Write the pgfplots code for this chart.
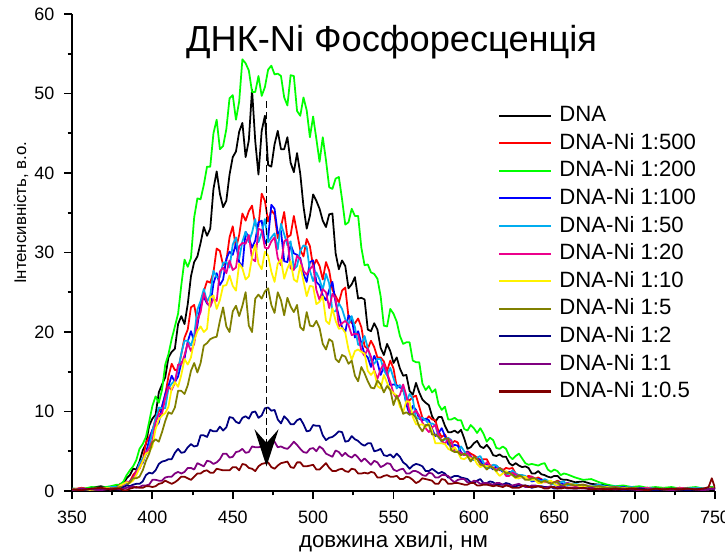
\documentclass[border=0pt]{standalone}
\usepackage{fontspec}
\setmainfont{Liberation Sans}
\usepackage{pgfplots}
\usepackage{pgfplotstable}
\pgfplotsset{compat=1.18}
\usetikzlibrary{arrows.meta}

\definecolor{cOlive}{RGB}{128,128,0}
\definecolor{cNavy}{RGB}{0,0,128}
\definecolor{cPurple}{RGB}{128,0,128}
\definecolor{cWine}{RGB}{128,0,0}

% phosphorescence spectra: wavelength (nm) and intensity (a.u.)
% K = DNA, R = 1:500, G = 1:200, B = 1:100, C = 1:50, M = 1:20,
% Y = 1:10, O = 1:5, N = 1:2, P = 1:1, D = 1:0.5
\pgfplotstableread{
x    K    R    G    B    C    M    Y    O    N    P    D
350  0.3  0.2  0.3  0.2  0.3  0.2  0.2  0.1  0.2  0.1  0.2
356  0.2  0.4  0.2  0.3  0.1  0.3  0.3  0.3  0.1  0.3  0.1
362  0.4  0.2  0.5  0.1  0.3  0.2  0.1  0.2  0.3  0.2  0.3
368  0.6  0.3  0.4  0.3  0.2  0.4  0.3  0.2  0.2  0.1  0.4
374  0.3  0.5  0.6  0.4  0.5  0.2  0.4  0.3  0.3  0.3  0.2
378  0.7  0.5  0.8  0.3  0.5  0.4  0.3  0.4  0.2  0.3  0.3
380  0.6  0.9  0.8  0.7  0.6  0.7  0.7  0.5  0.2  0.2  0.3
382  0.9  1.0  1.2  0.8  0.9  0.8  0.9  0.5  0.5  0.3  0.1
384  1.6  1.0  2.0  1.0  1.1  1.2  1.1  0.7  0.7  0.4  0.1
386  2.0  1.2  2.6  1.2  1.1  1.1  1.0  1.1  0.6  0.5  0.3
388  2.8  2.0  3.1  1.6  1.4  1.6  1.3  1.6  0.8  0.6  0.4
390  2.7  2.5  3.9  2.4  2.2  2.4  2.0  1.6  0.9  0.4  0.5
392  3.7  2.8  5.3  3.4  3.5  3.0  2.9  1.8  0.9  0.5  0.4
394  5.1  3.8  5.9  3.5  4.1  3.8  3.7  2.6  1.2  0.7  0.4
396  5.9  6.1  6.8  4.8  4.6  4.8  4.7  3.8  2.0  0.7  0.6
398  8.2  6.8  8.7  6.4  5.5  5.4  4.9  4.7  2.3  0.8  0.6
400  9.1  7.6 10.7  7.7  7.5  6.3  5.6  6.1  2.2  1.4  0.5
402  9.6  9.1 11.9  8.1  9.1  8.6  7.8  6.5  2.6  1.4  0.6
404 12.4 10.0 11.1  8.6 10.5  9.7  9.0  6.2  3.4  1.3  0.9
406 13.4 10.6 12.7 10.6 10.4  9.7  9.5  7.4  3.7  1.3  1.0
408 14.3 12.1 15.9 12.2 10.4 11.7  9.8  8.8  3.8  1.7  1.3
410 16.8 14.4 17.2 13.2 12.9 13.1 10.6  9.9  4.0  1.8  1.1
412 17.5 16.0 19.1 14.5 13.5 12.7 12.9  9.7  4.0  1.8  0.9
414 17.9 15.2 20.7 13.7 13.9 13.6 13.7 10.5  4.8  2.2  1.1
416 21.0 15.3 22.3 14.4 15.2 15.9 13.1 12.6  5.3  2.4  1.4
418 22.0 17.2 25.9 16.1 17.3 15.9 14.6 12.6  4.8  2.2  1.8
420 21.0 19.3 29.1 16.7 18.9 17.1 16.6 12.2  4.9  2.4  1.8
422 23.5 20.3 28.2 18.8 18.9 18.6 15.9 13.3  5.5  2.9  1.6
424 27.0 23.1 29.3 20.1 18.3 17.6 16.8 15.1  5.9  2.9  1.4
426 28.8 23.4 34.4 18.8 19.6 18.5 18.9 16.1  5.6  2.7  1.8
428 29.5 21.2 36.8 20.8 22.8 21.5 20.1 14.9  5.7  3.5  2.2
430 31.2 23.0 36.7 23.6 23.9 22.5 20.7 16.1  7.0  3.3  2.2
432 33.2 25.1 38.5 24.4 25.4 24.9 20.0 18.3  7.0  3.1  2.5
434 32.1 26.4 40.8 23.6 23.8 23.7 20.4 18.6  6.8  3.8  2.6
436 33.0 26.2 40.8 23.2 24.6 23.2 24.3 19.1  7.7  3.7  2.3
438 38.0 27.5 45.0 26.1 27.7 24.2 24.6 19.3  7.5  3.4  2.3
440 40.2 30.5 46.7 27.4 26.9 23.9 22.9 19.4  7.5  3.6  2.8
442 37.4 30.2 43.0 25.9 26.9 27.6 24.0 21.4  8.1  4.0  2.7
444 35.7 28.4 43.4 26.6 28.7 28.1 25.8 23.1  7.6  4.7  2.6
446 36.5 28.9 45.5 29.2 28.8 27.4 25.9 20.7  8.0  4.7  2.6
448 39.8 31.9 49.4 30.1 28.1 29.0 27.1 20.0  9.3  4.2  2.6
450 42.0 33.3 49.8 29.7 31.0 27.8 25.8 22.6  9.2  4.3  3.0
452 42.7 30.5 46.7 31.1 31.9 28.1 25.2 23.3  8.7  4.9  3.0
454 45.2 32.2 49.0 28.8 29.2 30.8 28.6 22.0  8.5  5.0  2.6
456 46.3 34.9 54.3 28.2 31.4 31.2 28.0 23.3  9.2  5.3  3.4
458 42.0 34.0 53.8 32.6 32.6 31.1 26.6 25.0  9.4  4.8  3.3
460 44.1 35.2 52.9 31.9 31.3 32.2 27.0 20.8  9.1  4.9  2.9
462 50.5 35.9 50.2 30.6 32.5 29.2 29.4 20.0  9.9  5.6  2.8
464 44.0 33.4 50.2 31.5 34.2 28.9 31.0 24.2 10.0  5.5  2.5
466 39.8 33.3 52.2 33.8 31.3 33.0 28.6 24.7  9.2  5.5  3.1
468 45.3 37.4 49.7 34.0 32.5 32.8 27.9 24.2  9.5  5.6  3.4
470 47.2 36.5 50.8 31.1 34.2 30.6 30.1 25.1 10.4  5.2  3.5
472 41.0 33.9 53.0 31.8 31.3 30.5 29.6 25.5 10.5  5.2  3.6
474 40.8 35.3 53.5 36.0 31.9 31.4 27.6 23.4 10.1  6.1  3.0
476 43.6 34.8 52.4 35.5 32.4 31.9 26.3 22.4 10.2  6.2  2.8
478 45.3 31.8 52.5 32.4 30.4 29.3 28.6 25.0  9.0  5.5  3.2
480 43.0 33.2 52.2 32.7 33.6 28.4 29.1 24.0  8.5  5.6  3.5
482 43.0 35.1 49.5 28.9 32.3 31.4 26.7 22.1  9.4  5.4  3.6
484 44.5 31.9 48.5 28.8 30.9 31.7 28.0 24.3  9.0  5.3  3.7
486 41.3 32.2 52.3 31.0 31.4 28.0 28.9 23.2  8.4  5.7  3.0
488 40.1 34.6 52.2 29.9 27.9 27.8 26.6 22.5  8.4  6.2  2.9
490 42.5 32.5 47.8 29.7 28.3 29.6 26.3 23.4  8.9  5.8  3.6
492 39.9 30.3 47.2 29.3 30.2 29.1 28.4 20.6  9.1  5.3  3.6
494 35.8 29.5 49.5 27.3 30.9 27.7 26.4 20.2  8.4  4.9  3.1
496 33.0 31.7 47.9 26.3 30.7 27.2 24.5 22.5  7.5  4.8  3.1
498 34.6 30.8 44.5 28.8 27.7 27.9 25.8 20.8  7.6  5.3  3.2
500 37.3 28.2 47.1 29.0 26.4 28.4 25.7 20.7  8.3  5.4  3.3
502 36.5 29.1 44.3 26.3 27.5 25.3 23.5 21.4  8.2  5.0  2.7
504 35.5 28.3 41.4 25.9 26.6 24.0 23.8 20.5  8.2  5.6  2.7
506 34.0 26.6 44.5 24.6 25.3 25.4 24.5 18.5  7.0  5.3  3.1
508 33.2 28.8 41.6 24.0 27.3 25.0 21.4 17.8  6.4  4.7  3.5
510 34.8 27.7 38.2 25.3 26.1 23.0 21.0 19.1  6.7  4.5  2.9
512 34.9 25.3 38.0 26.3 22.6 24.8 23.0 18.8  6.8  4.3  2.5
514 29.9 24.5 39.3 23.7 22.6 24.2 21.4 16.6  7.1  5.1  2.5
516 27.9 23.7 39.5 22.0 23.6 20.7 20.4 16.2  7.5  4.9  2.7
518 29.0 25.2 36.7 20.6 22.9 21.1 20.5 17.1  7.4  4.4  2.8
520 28.3 25.6 33.5 20.0 21.6 21.4 19.9 16.9  6.2  4.8  2.5
522 25.5 21.9 33.8 22.1 21.0 20.9 17.8 16.0  6.3  4.4  2.4
524 26.0 21.1 35.5 21.7 22.0 19.6 16.5 16.4  6.9  4.2  2.8
526 26.9 21.1 34.6 19.3 20.6 19.8 17.6 14.5  6.5  4.6  2.7
528 24.2 21.7 34.6 20.1 18.4 19.7 17.8 13.8  6.3  4.2  2.2
530 24.3 20.6 30.6 18.6 18.3 17.6 17.5 15.6  5.9  3.7  2.2
532 24.1 18.2 28.4 17.2 19.5 17.0 17.3 14.8  5.7  4.1  2.3
534 20.3 17.9 28.5 16.8 18.0 17.9 15.1 13.8  6.0  3.7  2.2
536 20.1 18.9 27.5 15.6 16.4 16.9 14.6 13.0  6.0  3.3  2.4
538 21.1 18.1 27.3 17.0 16.0 15.2 15.1 12.9  5.0  3.8  2.3
540 20.3 16.8 26.7 16.2 16.6 14.1 13.2 13.9  5.1  3.6  1.7
542 18.0 16.8 24.5 14.6 16.6 15.3 12.9 13.4  5.3  3.0  1.7
544 17.1 16.3 20.8 15.6 15.2 16.0 14.6 12.4  4.5  3.2  1.9
546 18.5 15.1 20.7 14.8 14.5 14.8 13.6 13.2  4.4  3.5  2.0
548 17.6 16.4 22.9 13.3 15.5 13.7 12.7 12.7  4.6  3.4  1.8
550 16.1 15.4 22.3 13.4 14.2 12.3 12.3 10.8  4.2  2.7  1.8
552 16.8 13.1 21.3 13.3 12.9 11.6 12.0 12.0  4.7  2.5  1.9
554 15.4 13.3 19.5 13.0 13.3 12.1 10.6 11.1  4.3  2.7  1.5
556 14.5 12.6 18.5 13.0 12.8 13.4  9.9  9.7  3.6  2.8  1.5
558 14.6 11.7 18.7 10.9 11.2 12.0 11.3  9.9  3.3  2.2  1.8
560 12.6 11.4 18.7  9.6 12.2  9.9 11.2  9.6  2.8  2.2  1.7
562 12.1 11.8 16.4 10.7 11.6  9.8  9.3  9.7  3.2  2.5  1.4
564 13.6 12.0 16.2 10.2  9.1 10.1  8.4  9.2  3.4  2.5  1.0
566 12.4 10.6 16.2  9.1  9.2  9.5  8.3  8.1  3.3  2.3  1.2
568 11.5  9.2 13.5  8.9  9.2  8.6  8.4  7.5  3.1  2.0  1.6
570 11.1  8.9 12.7  9.1  8.9  7.9  8.0  8.3  2.5  1.9  1.5
572 10.8  9.4 13.2  8.9  8.4  7.4  8.5  8.3  2.5  2.3  1.4
574  9.4  9.0 12.4  7.8  8.5  8.0  7.6  7.1  2.8  2.2  1.3
576  8.7  8.9 12.8  6.9  8.3  8.3  6.0  7.1  2.5  1.7  0.9
578  9.3  7.5 10.9  7.3  6.8  7.1  6.0  6.8  2.2  1.7  0.9
580  9.3  6.8 10.2  7.9  6.2  6.3  6.0  6.3  2.4  2.0  1.5
582  8.2  7.1 10.6  6.9  6.5  5.9  5.9  6.6  2.2  2.0  1.4
584  7.4  6.3  9.0  5.9  6.7  6.6  5.3  6.6  1.7  1.9  0.9
586  7.4  5.9  9.0  5.6  6.4  6.3  5.1  5.1  1.7  1.4  0.9
588  7.6  6.3  9.2  5.8  5.0  4.9  5.5  4.9  1.9  1.1  1.0
590  7.3  6.1  8.9  5.7  5.0  5.0  4.9  4.9  1.9  1.4  1.0
592  7.7  4.7  8.9  4.9  5.6  4.8  4.1  4.5  1.7  1.5  0.9
594  6.6  4.7  7.8  4.5  5.0  4.5  4.0  4.7  1.6  1.5  0.8
596  5.3  5.0  7.6  4.9  4.5  4.8  4.3  4.4  1.5  1.1  0.8
598  5.5  4.7  8.3  4.4  4.0  4.3  4.1  3.7  1.1  1.0  1.0
600  6.0  4.5  7.9  3.9  3.9  4.0  4.1  4.3  1.0  1.3  1.0
602  6.3  4.2  7.3  4.1  4.2  4.1  3.4  4.0  1.3  1.2  0.7
604  5.6  3.9  7.9  3.8  4.4  3.3  3.0  3.4  1.5  0.9  0.7
606  5.4  4.0  7.2  3.2  3.6  3.1  3.2  3.2  1.0  1.0  0.8
608  5.8  4.0  6.2  3.4  2.9  3.6  3.1  2.7  1.0  1.0  0.8
610  5.3  3.2  6.7  3.1  2.9  3.2  3.1  3.1  1.2  0.9  0.7
612  4.5  3.2  6.4  2.7  3.3  2.9  2.9  2.9  1.1  0.8  0.6
614  4.4  3.2  5.4  3.1  3.2  2.7  2.4  2.5  0.8  1.0  0.7
616  4.6  2.6  5.3  2.8  2.8  2.9  1.9  2.9  0.8  1.0  0.6
618  4.3  2.6  5.6  2.4  2.5  2.7  2.2  2.6  0.8  0.8  0.5
620  4.3  2.9  5.3  2.2  2.0  1.9  2.5  2.2  1.0  0.8  0.7
622  3.5  2.8  4.4  2.4  2.1  1.9  2.2  2.3  0.9  0.7  0.6
624  3.2  2.9  4.0  2.4  2.6  2.3  2.0  2.0  0.6  0.7  0.4
626  3.5  2.2  4.4  1.7  2.2  2.1  1.6  1.7  0.6  0.8  0.4
628  3.2  1.9  4.7  1.6  2.0  1.8  1.6  2.0  0.7  0.9  0.4
630  3.0  2.0  4.1  1.9  2.0  1.7  1.8  1.8  0.7  0.7  0.6
632  3.1  1.7  3.5  1.8  1.9  1.7  1.8  1.4  0.7  0.5  0.7
634  2.9  1.9  3.3  1.6  1.5  1.6  1.4  1.4  0.6  0.5  0.5
636  2.2  1.8  3.4  1.2  1.3  1.8  1.4  1.6  0.4  0.7  0.5
638  2.2  1.5  3.3  1.3  1.5  1.6  1.4  1.6  0.5  0.7  0.5
640  2.5  1.7  3.2  1.5  1.4  1.1  1.0  1.3  0.6  0.6  0.6
642  2.1  1.5  3.4  1.4  1.2  1.1  1.0  1.1  0.6  0.5  0.5
644  2.0  1.2  3.5  1.3  1.5  1.1  1.2  1.3  0.5  0.4  0.3
646  1.8  1.1  2.7  1.1  1.3  1.1  1.2  1.1  0.5  0.5  0.3
648  1.7  1.1  2.4  0.9  1.0  1.0  1.3  0.9  0.5  0.6  0.5
650  1.9  1.1  2.7  0.9  0.8  1.1  0.9  1.1  0.3  0.4  0.5
652  1.9  1.3  2.5  1.2  0.8  1.1  0.7  1.2  0.3  0.5  0.3
654  1.5  1.1  2.0  1.0  1.1  0.7  0.7  0.7  0.5  0.6  0.3
656  1.4  0.7  2.2  0.8  1.2  0.7  0.6  0.7  0.5  0.5  0.4
658  1.4  0.7  2.1  1.0  0.7  1.0  0.9  0.9  0.4  0.3  0.4
663  1.1  0.7  1.7  0.8  0.9  0.6  0.8  0.7  0.3  0.4  0.3
668  1.2  0.8  1.4  0.6  0.7  0.8  0.5  0.8  0.4  0.3  0.4
673  0.9  0.5  1.5  0.7  0.6  0.5  0.6  0.5  0.2  0.4  0.2
678  0.8  0.6  1.1  0.5  0.8  0.6  0.4  0.6  0.3  0.2  0.3
683  0.7  0.4  0.8  0.6  0.5  0.4  0.5  0.4  0.2  0.3  0.2
688  0.5  0.5  0.6  0.4  0.6  0.5  0.3  0.5  0.3  0.2  0.3
693  0.6  0.3  0.7  0.5  0.4  0.3  0.4  0.3  0.1  0.3  0.2
698  0.4  0.4  0.5  0.3  0.5  0.4  0.3  0.4  0.2  0.2  0.3
703  0.5  0.3  0.6  0.4  0.3  0.3  0.2  0.3  0.3  0.1  0.2
708  0.3  0.4  0.4  0.3  0.4  0.4  0.3  0.2  0.2  0.2  0.1
713  0.4  0.2  0.5  0.2  0.3  0.2  0.2  0.3  0.1  0.3  0.3
718  0.3  0.3  0.4  0.3  0.2  0.3  0.3  0.2  0.2  0.2  0.2
723  0.2  0.2  0.5  0.2  0.3  0.2  0.2  0.1  0.3  0.1  0.3
728  0.4  0.3  0.3  0.3  0.2  0.4  0.3  0.3  0.2  0.2  0.2
733  0.3  0.2  0.4  0.2  0.3  0.3  0.2  0.2  0.1  0.3  0.3
738  0.2  0.3  0.5  0.3  0.4  0.2  0.3  0.3  0.2  0.2  0.2
743  0.3  0.2  0.3  0.2  0.3  0.3  0.2  0.2  0.3  0.1  0.3
746  0.4  0.3  0.4  0.3  0.2  0.2  0.3  0.2  0.2  0.2  0.5
748  0.5  0.4  0.5  0.4  0.4  0.4  0.4  0.4  0.3  0.3  1.6
750  0.3  0.3  0.4  0.2  0.3  0.3  0.2  0.3  0.2  0.2  0.4
}\spectra

\begin{document}
\begin{tikzpicture}
\begin{axis}[
  name=ax,
  scale only axis,
  width=12.86cm, height=9.54cm,
  xmin=350, xmax=750, ymin=0, ymax=60,
  axis lines*=left,
  axis line style={line width=1.1pt},
  tick align=outside,
  xtick={350,400,...,750}, minor x tick num=1,
  ytick={0,10,...,60}, minor y tick num=1,
  major tick length=0.16cm, minor tick length=0.09cm,
  every tick/.style={line width=1.1pt, black},
  /pgf/number format/assume math mode=true,
  ticklabel style={font=\fontsize{10.2}{12}\selectfont},
  xticklabel style={yshift=-3.5pt},
  yticklabel style={xshift=-2pt},
  xlabel={довжина хвилі, нм},
  xlabel style={at={(axis description cs:0.5,0)}, anchor=base,
    yshift=-1.13cm, font=\fontsize{12.7}{15}\selectfont},
  ylabel={Інтенсивність, в.о.},
  ylabel style={at={(axis description cs:-0.0793,0.583)}, anchor=center,
    font=\fontsize{9.6}{11}\selectfont},
  legend cell align=left,
  legend style={draw=none, fill=none,
    at={(rel axis cs:0.6625,0.8136)}, anchor=north west,
    inner sep=0pt, outer sep=0pt, row sep=1.2pt,
    font=\fontsize{12.6}{15}\selectfont,
    nodes={inner sep=1.2pt, text height=9.5pt, text depth=2.6pt},
    /tikz/every odd column/.append style={column sep=3pt}},
  legend image code/.code={\draw[#1, line width=1.2pt] (0cm,0cm) -- (1.04cm,0cm);},
  every axis plot/.append style={line width=1pt, line join=round},
]
\addplot[black]   table[x=x, y=K] {\spectra}; \addlegendentry{DNA}
\addplot[red]     table[x=x, y=R] {\spectra}; \addlegendentry{DNA-Ni 1:500}
\addplot[green]   table[x=x, y=G] {\spectra}; \addlegendentry{DNA-Ni 1:200}
\addplot[blue]    table[x=x, y=B] {\spectra}; \addlegendentry{DNA-Ni 1:100}
\addplot[cyan]    table[x=x, y=C] {\spectra}; \addlegendentry{DNA-Ni 1:50}
\addplot[magenta] table[x=x, y=M] {\spectra}; \addlegendentry{DNA-Ni 1:20}
\addplot[yellow]  table[x=x, y=Y] {\spectra}; \addlegendentry{DNA-Ni 1:10}
\addplot[cOlive]  table[x=x, y=O] {\spectra}; \addlegendentry{DNA-Ni 1:5}
\addplot[cNavy]   table[x=x, y=N] {\spectra}; \addlegendentry{DNA-Ni 1:2}
\addplot[cPurple] table[x=x, y=P] {\spectra}; \addlegendentry{DNA-Ni 1:1}
\addplot[cWine]   table[x=x, y=D] {\spectra}; \addlegendentry{DNA-Ni 1:0.5}

% quenching trend marker
\draw[black, line width=1.1pt, dash pattern=on 4pt off 2pt,
  -{Stealth[length=0.74cm, width=0.48cm, inset=0.27cm]}]
  (axis cs:471,49) -- (axis cs:471,3.1);

\node[anchor=base, font=\fontsize{20.6}{24}\selectfont]
  at (rel axis cs:0.497,0.921) {ДНК-Ni Фосфоресценція};
\end{axis}
\pgfresetboundingbox
\path[use as bounding box] ([xshift=-1.44cm, yshift=-1.28cm]ax.south west)
  rectangle ([xshift=0.2cm, yshift=0.28cm]ax.north east);
\end{tikzpicture}
\end{document}
